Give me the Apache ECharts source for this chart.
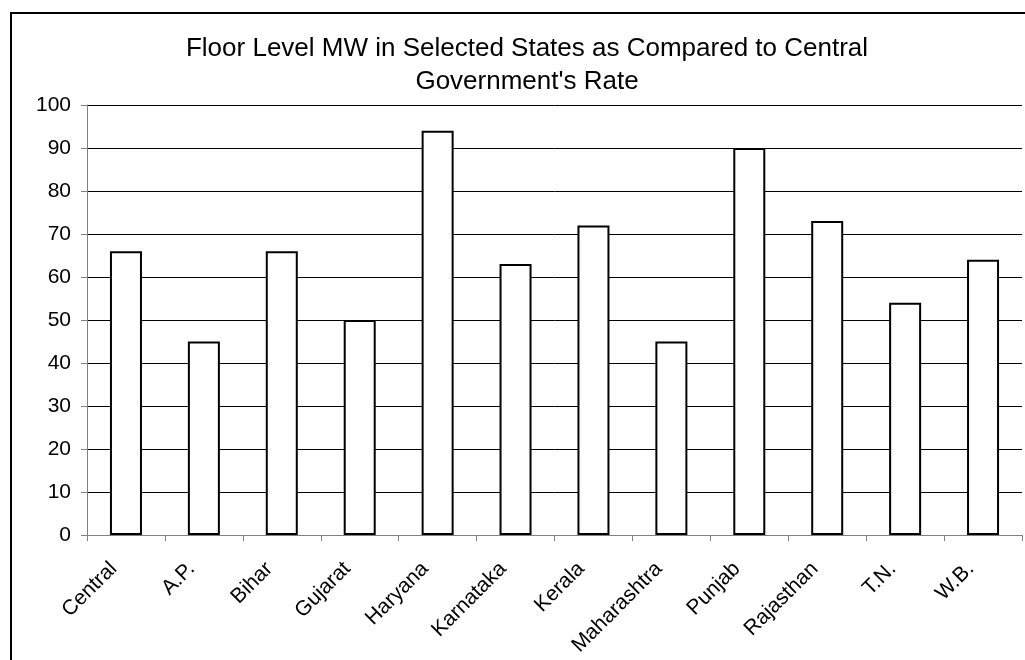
<!DOCTYPE html>
<html>
<head>
<meta charset="utf-8">
<script src="https://cdn.jsdelivr.net/npm/echarts@6/dist/echarts.min.js"></script>
<style>
html,body{margin:0;padding:0;background:#fff;}
#chart{width:1025px;height:660px;}
</style>
</head>
<body>
<div id="chart"></div>
<script>
var titleText = "Floor Level MW in Selected States as Compared to Central\nGovernment's Rate";
var categories = ["Central","A.P.","Bihar","Gujarat","Haryana","Karnataka","Kerala","Maharashtra","Punjab","Rajasthan","T.N.","W.B."];
var values = [66, 45, 66, 50, 94, 63, 72, 45, 90, 73, 54, 64];
var yMin = 0, yMax = 100, yStep = 10;

var FONT = '"Liberation Sans", Arial, sans-serif';
var chart = echarts.init(document.getElementById('chart'), null, {renderer: 'canvas'});
chart.setOption({
  backgroundColor: '#ffffff',
  animation: false,
  title: {
    text: titleText,
    left: 522,
    textAlign: 'center',
    top: 27,
    textStyle: {fontFamily: FONT, fontSize: 26, fontWeight: 'normal', color: '#000', lineHeight: 33}
  },
  graphic: [{
    type: 'rect',
    shape: {x: 11, y: 13, width: 1100, height: 1000},
    style: {fill: 'none', stroke: '#000', lineWidth: 2},
    silent: true,
    z: 100
  }],
  grid: {left: 87, right: 3, top: 105, bottom: 125, containLabel: false, outerBoundsMode: 'none'},
  xAxis: {
    type: 'category',
    data: categories,
    boundaryGap: true,
    axisLine: {lineStyle: {color: '#808080', width: 1}},
    axisTick: {show: true, length: 6, lineStyle: {color: '#808080'}},
    axisLabel: {rotate: 45, margin: 43, interval: 0, verticalAlign: 'bottom', lineHeight: 35,
      fontFamily: FONT, fontSize: 21, color: '#000'},
    splitLine: {show: false}
  },
  yAxis: {
    type: 'value',
    min: yMin, max: yMax, interval: yStep,
    axisLine: {show: true, lineStyle: {color: '#808080', width: 1}},
    axisTick: {show: true, length: 6, lineStyle: {color: '#808080'}},
    axisLabel: {margin: 16, fontFamily: FONT, fontSize: 21, color: '#000'},
    splitLine: {show: true, lineStyle: {color: '#000', width: 1}}
  },
  series: [{
    type: 'bar',
    data: values,
    barWidth: 32,
    itemStyle: {color: '#ffffff', borderColor: '#000', borderWidth: 2},
    emphasis: {disabled: true}
  }]
});
</script>
</body>
</html>
